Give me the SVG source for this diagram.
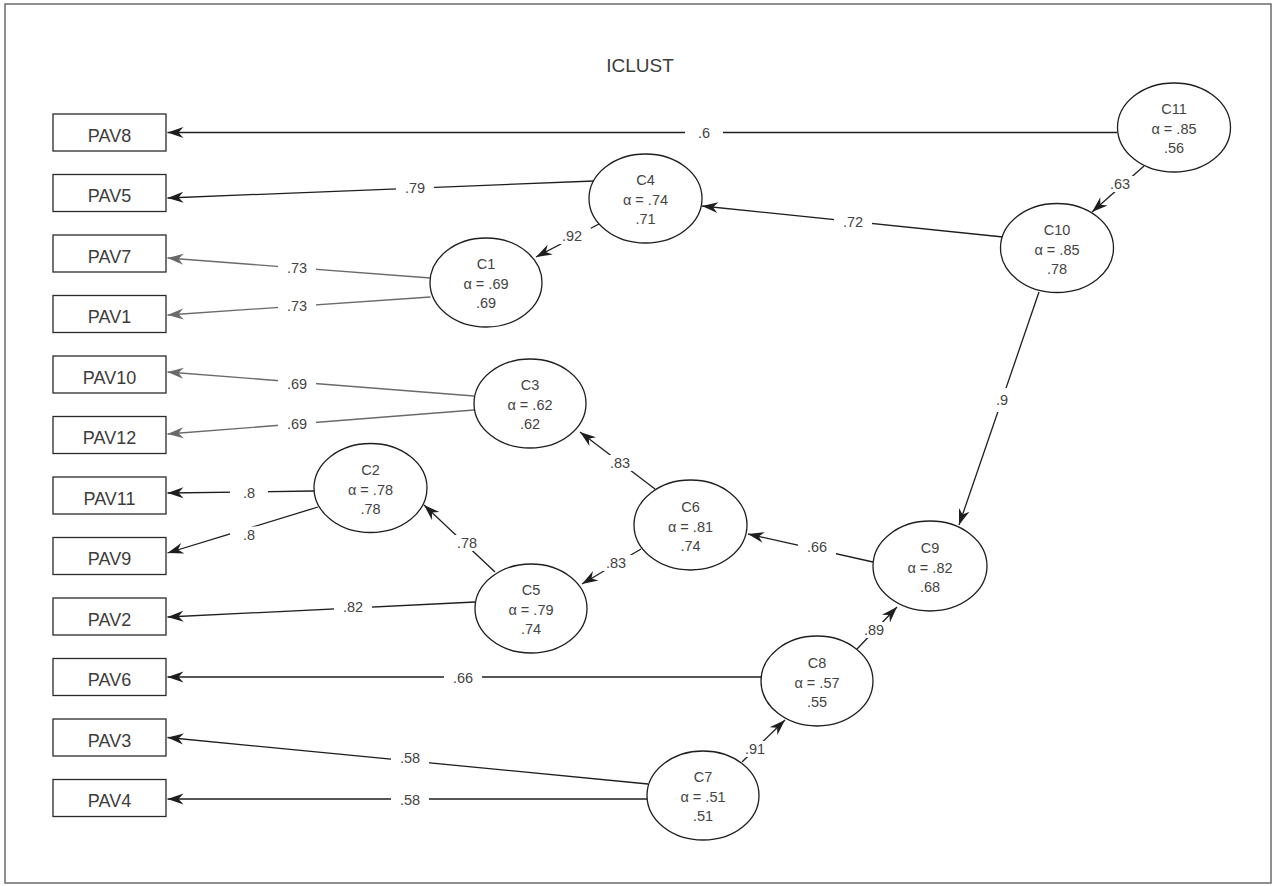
<svg xmlns="http://www.w3.org/2000/svg" width="1275" height="886" viewBox="0 0 1275 886">
<style>
.frame{fill:#fff;stroke:#6b6b6b;stroke-width:1.5}
.box{fill:#fff;stroke:#2a2a2a;stroke-width:1.3}
.ell{fill:#fff;stroke:#1e1e1e;stroke-width:1.3}
.btxt{font-family:"Liberation Sans",Arial,sans-serif;font-size:18px;fill:#3c3c3c;text-anchor:middle}
.etxt{font-family:"Liberation Sans",Arial,sans-serif;font-size:14.5px;fill:#444;text-anchor:middle}
.title{font-family:"Liberation Sans",Arial,sans-serif;font-size:19px;fill:#3c3c3c;text-anchor:middle}
.e{stroke:#1e1e1e;stroke-width:1.3;fill:none;marker-end:url(#ah)}
.g{stroke:#6a6a6a;stroke-width:1.3;fill:none;marker-end:url(#ahg)}
.gap{fill:#fff;stroke:none}
.lbl{font-family:"Liberation Sans",Arial,sans-serif;font-size:14.5px;fill:#444;text-anchor:middle}
</style>
<defs>
<marker id="ah" markerUnits="userSpaceOnUse" viewBox="-17 -7 18 14" refX="0" refY="0" markerWidth="18" markerHeight="14" orient="auto">
<path d="M0,0 L-16,-5.5 L-11,0 L-16,5.5 Z" fill="#1e1e1e"/>
</marker>
<marker id="ahg" markerUnits="userSpaceOnUse" viewBox="-17 -7 18 14" refX="0" refY="0" markerWidth="18" markerHeight="14" orient="auto">
<path d="M0,0 L-16,-5.5 L-11,0 L-16,5.5 Z" fill="#6a6a6a"/>
</marker>
</defs>
<rect class="frame" x="5" y="4" width="1266" height="879"/>
<text class="title" x="640" y="72">ICLUST</text>

<g id="connectors">
<line class="e" x1="1117" y1="132.5" x2="167.5" y2="132.5"/>
<rect class="gap" x="685" y="124.5" width="38" height="16"/><text class="lbl" x="704" y="137.5">.6</text>
<line class="e" x1="1144" y1="166" x2="1092" y2="212"/>
<rect class="gap" x="1101" y="176" width="38" height="16"/><text class="lbl" x="1120" y="189">.63</text>
<line class="e" x1="594" y1="181" x2="167.5" y2="198"/>
<rect class="gap" x="396" y="179.5" width="38" height="16"/><text class="lbl" x="415" y="192.5">.79</text>
<line class="e" x1="1003" y1="237" x2="702" y2="206"/>
<rect class="gap" x="834" y="214" width="38" height="16"/><text class="lbl" x="853" y="227">.72</text>
<line class="e" x1="599" y1="224" x2="536" y2="257"/>
<rect class="gap" x="553" y="228" width="38" height="16"/><text class="lbl" x="572" y="241">.92</text>
<line class="g" x1="430.5" y1="278" x2="167.5" y2="258"/>
<rect class="gap" x="278" y="259.5" width="38" height="16"/><text class="lbl" x="297" y="272.5">.73</text>
<line class="g" x1="430.5" y1="297" x2="167.5" y2="315"/>
<rect class="gap" x="278" y="297.5" width="38" height="16"/><text class="lbl" x="297" y="310.5">.73</text>
<line class="g" x1="474" y1="396" x2="167.5" y2="372"/>
<rect class="gap" x="278" y="375.5" width="38" height="16"/><text class="lbl" x="297" y="388.5">.69</text>
<line class="g" x1="474" y1="410" x2="167.5" y2="434"/>
<rect class="gap" x="278" y="415.5" width="38" height="16"/><text class="lbl" x="297" y="428.5">.69</text>
<line class="e" x1="314" y1="491" x2="167.5" y2="493"/>
<rect class="gap" x="230" y="485" width="38" height="16"/><text class="lbl" x="249" y="498">.8</text>
<line class="e" x1="318" y1="507" x2="167.5" y2="553"/>
<rect class="gap" x="230" y="526.5" width="38" height="16"/><text class="lbl" x="249" y="539.5">.8</text>
<line class="e" x1="495" y1="572" x2="424" y2="505"/>
<rect class="gap" x="448" y="535" width="38" height="16"/><text class="lbl" x="467" y="548">.78</text>
<line class="e" x1="475" y1="602" x2="167.5" y2="617"/>
<rect class="gap" x="334" y="599" width="38" height="16"/><text class="lbl" x="353" y="612">.82</text>
<line class="e" x1="655" y1="489" x2="580" y2="432"/>
<rect class="gap" x="601" y="455" width="38" height="16"/><text class="lbl" x="620" y="468">.83</text>
<line class="e" x1="641" y1="549" x2="582" y2="584"/>
<rect class="gap" x="597" y="555" width="38" height="16"/><text class="lbl" x="616" y="568">.83</text>
<line class="e" x1="873" y1="562" x2="748" y2="534"/>
<rect class="gap" x="798" y="539" width="38" height="16"/><text class="lbl" x="817" y="552">.66</text>
<line class="e" x1="1039" y1="292" x2="959" y2="525"/>
<rect class="gap" x="988" y="388" width="28" height="24"/><text class="lbl" x="1002" y="405">.9</text>
<line class="e" x1="761" y1="677" x2="167.5" y2="677"/>
<rect class="gap" x="444" y="669.5" width="38" height="16"/><text class="lbl" x="463" y="682.5">.66</text>
<line class="e" x1="857" y1="649" x2="897" y2="607"/>
<rect class="gap" x="855" y="622" width="38" height="16"/><text class="lbl" x="874" y="635">.89</text>
<line class="e" x1="742" y1="762" x2="785" y2="720"/>
<rect class="gap" x="736" y="741" width="38" height="16"/><text class="lbl" x="755" y="754">.91</text>
<line class="e" x1="648" y1="784" x2="167.5" y2="737.5"/>
<rect class="gap" x="391" y="750" width="38" height="16"/><text class="lbl" x="410" y="763">.58</text>
<line class="e" x1="648" y1="799" x2="167.5" y2="799"/>
<rect class="gap" x="391" y="791.5" width="38" height="16"/><text class="lbl" x="410" y="804.5">.58</text>
</g>

<g id="PAV8"><rect class="box" x="53" y="114" width="113" height="37"/><text class="btxt" x="109.5" y="141.5">PAV8</text></g>
<g id="PAV5"><rect class="box" x="53" y="174.5" width="113" height="37"/><text class="btxt" x="109.5" y="202">PAV5</text></g>
<g id="PAV7"><rect class="box" x="53" y="235" width="113" height="37"/><text class="btxt" x="109.5" y="262.5">PAV7</text></g>
<g id="PAV1"><rect class="box" x="53" y="295.5" width="113" height="37"/><text class="btxt" x="109.5" y="323">PAV1</text></g>
<g id="PAV10"><rect class="box" x="53" y="356" width="113" height="37"/><text class="btxt" x="109.5" y="383.5">PAV10</text></g>
<g id="PAV12"><rect class="box" x="53" y="416.5" width="113" height="37"/><text class="btxt" x="109.5" y="444">PAV12</text></g>
<g id="PAV11"><rect class="box" x="53" y="477" width="113" height="37"/><text class="btxt" x="109.5" y="504.5">PAV11</text></g>
<g id="PAV9"><rect class="box" x="53" y="537.5" width="113" height="37"/><text class="btxt" x="109.5" y="565">PAV9</text></g>
<g id="PAV2"><rect class="box" x="53" y="598" width="113" height="37"/><text class="btxt" x="109.5" y="625.5">PAV2</text></g>
<g id="PAV6"><rect class="box" x="53" y="658.5" width="113" height="37"/><text class="btxt" x="109.5" y="686">PAV6</text></g>
<g id="PAV3"><rect class="box" x="53" y="719" width="113" height="37"/><text class="btxt" x="109.5" y="746.5">PAV3</text></g>
<g id="PAV4"><rect class="box" x="53" y="779.5" width="113" height="37"/><text class="btxt" x="109.5" y="807">PAV4</text></g>

<g id="C11"><ellipse class="ell" cx="1174" cy="127.5" rx="56.5" ry="44.5"/><text class="etxt" x="1174" y="114">C11</text><text class="etxt" x="1174" y="134">α = .85</text><text class="etxt" x="1174" y="153">.56</text></g>
<g id="C10"><ellipse class="ell" cx="1057" cy="248" rx="56.5" ry="44.5"/><text class="etxt" x="1057" y="234.5">C10</text><text class="etxt" x="1057" y="254.5">α = .85</text><text class="etxt" x="1057" y="273.5">.78</text></g>
<g id="C4"><ellipse class="ell" cx="645.5" cy="198.5" rx="56.5" ry="44.5"/><text class="etxt" x="645.5" y="185">C4</text><text class="etxt" x="645.5" y="205">α = .74</text><text class="etxt" x="645.5" y="224">.71</text></g>
<g id="C1"><ellipse class="ell" cx="486" cy="282.5" rx="56" ry="44.5"/><text class="etxt" x="486" y="269">C1</text><text class="etxt" x="486" y="289">α = .69</text><text class="etxt" x="486" y="308">.69</text></g>
<g id="C3"><ellipse class="ell" cx="530" cy="403.5" rx="56" ry="44.5"/><text class="etxt" x="530" y="390">C3</text><text class="etxt" x="530" y="410">α = .62</text><text class="etxt" x="530" y="429">.62</text></g>
<g id="C2"><ellipse class="ell" cx="370.5" cy="488" rx="56.5" ry="44.5"/><text class="etxt" x="370.5" y="474.5">C2</text><text class="etxt" x="370.5" y="494.5">α = .78</text><text class="etxt" x="370.5" y="513.5">.78</text></g>
<g id="C5"><ellipse class="ell" cx="531" cy="608.5" rx="56" ry="44.5"/><text class="etxt" x="531" y="595">C5</text><text class="etxt" x="531" y="615">α = .79</text><text class="etxt" x="531" y="634">.74</text></g>
<g id="C6"><ellipse class="ell" cx="690.5" cy="525" rx="56.5" ry="45"/><text class="etxt" x="690.5" y="511.5">C6</text><text class="etxt" x="690.5" y="531.5">α = .81</text><text class="etxt" x="690.5" y="550.5">.74</text></g>
<g id="C9"><ellipse class="ell" cx="930" cy="566" rx="57" ry="45"/><text class="etxt" x="930" y="552.5">C9</text><text class="etxt" x="930" y="572.5">α = .82</text><text class="etxt" x="930" y="591.5">.68</text></g>
<g id="C8"><ellipse class="ell" cx="817" cy="681" rx="56" ry="45"/><text class="etxt" x="817" y="667.5">C8</text><text class="etxt" x="817" y="687.5">α = .57</text><text class="etxt" x="817" y="706.5">.55</text></g>
<g id="C7"><ellipse class="ell" cx="703" cy="795.5" rx="56" ry="44.5"/><text class="etxt" x="703" y="782">C7</text><text class="etxt" x="703" y="802">α = .51</text><text class="etxt" x="703" y="821">.51</text></g>
</svg>
